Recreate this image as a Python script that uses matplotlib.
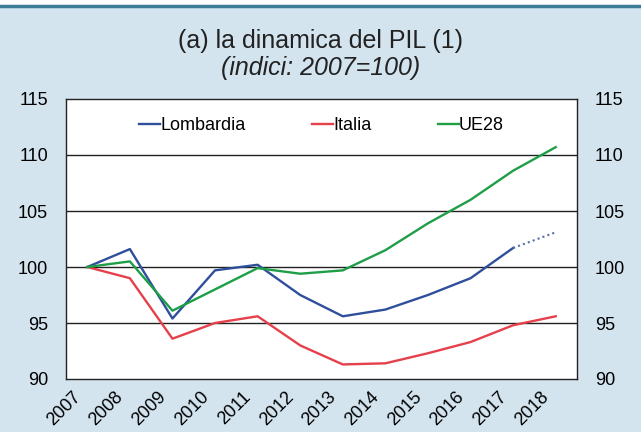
import matplotlib.pyplot as plt
import matplotlib.transforms as mtransforms
import numpy as np
from matplotlib.patches import Rectangle
from matplotlib.lines import Line2D

plt.rc('font', family=['Liberation Sans', 'DejaVu Sans'])

years = ['2007', '2008', '2009', '2010', '2011', '2012',
         '2013', '2014', '2015', '2016', '2017', '2018']
lombardia = [100.0, 101.6, 95.4, 99.7, 100.2, 97.5, 95.6, 96.2, 97.5, 99.0, 101.7]
lombardia_est = [101.7, 103.1]   # 2017 -> 2018, dotted
italia = [100.0, 99.0, 93.6, 95.0, 95.6, 93.0, 91.3, 91.4, 92.3, 93.3, 94.8, 95.6]
ue28 = [100.0, 100.5, 96.1, 98.0, 99.9, 99.4, 99.7, 101.5, 103.9, 106.0, 108.6, 110.7]

bg = '#d3e4ef'
c_lom = '#2f4f9c'
c_ita = '#e5404b'
c_ue = '#1f9e48'

fig = plt.figure(figsize=(6.41, 4.32), dpi=100, facecolor=bg)
# white strip and dark rule on top
fig.patches.append(Rectangle((0, 1 - 5 / 432), 1, 5 / 432, transform=fig.transFigure,
                             facecolor='white', edgecolor='none', zorder=0))
fig.add_artist(Line2D([0, 1], [1 - 6 / 432, 1 - 6 / 432], transform=fig.transFigure,
                      color='#3d7b98', lw=2.5))

ax = fig.add_axes([66 / 641, 1 - 379 / 432, 511 / 641, 280 / 432])
x = np.arange(len(years))
ax.plot(x[:len(lombardia)], lombardia, color=c_lom, lw=1.7, label='Lombardia')
ax.plot(x[10:12], lombardia_est, color='#5a6fa8', lw=1.5, ls=(0, (1, 1.5)))
ax.plot(x, italia, color=c_ita, lw=1.7, label='Italia')
ax.plot(x, ue28, color=c_ue, lw=1.7, label='UE28')

ax.set_xlim(-0.5, len(years) - 0.5)
ax.set_ylim(90, 115)
ax.set_yticks([90, 95, 100, 105, 110, 115])
ax.set_xticks(x)
ax.set_xticklabels(years, rotation=45, ha='right', rotation_mode='anchor', fontsize=10.5)
ax.tick_params(axis='both', length=0, labelsize=13)
ax.tick_params(axis='y', labelleft=True, labelright=True, pad=13)
ax.tick_params(axis='x', pad=7)
shift = mtransforms.ScaledTranslation(-15 / 100, 0, fig.dpi_scale_trans)
for lab in ax.get_xticklabels():
    lab.set_transform(lab.get_transform() + shift)
for yv in [95, 100, 105, 110]:
    ax.axhline(yv, color='#222222', lw=1.0, zorder=0)
for s in ax.spines.values():
    s.set_color('#222222')
    s.set_linewidth(1.0)

ax.legend(loc='center', bbox_to_anchor=(0.5, 0.905), ncol=3, frameon=False,
          handlelength=1.15, handletextpad=0.0, columnspacing=3.7, fontsize=13)

fig.text(0.5, 1 - 41 / 432, '(a) la dinamica del PIL (1)', ha='center', va='center',
         fontsize=18, color='#222222')
fig.text(0.5, 1 - 68 / 432, '(indici: 2007=100)', ha='center', va='center',
         fontsize=18, style='italic', color='#222222')

plt.savefig('out.png', dpi=100, facecolor=bg)
